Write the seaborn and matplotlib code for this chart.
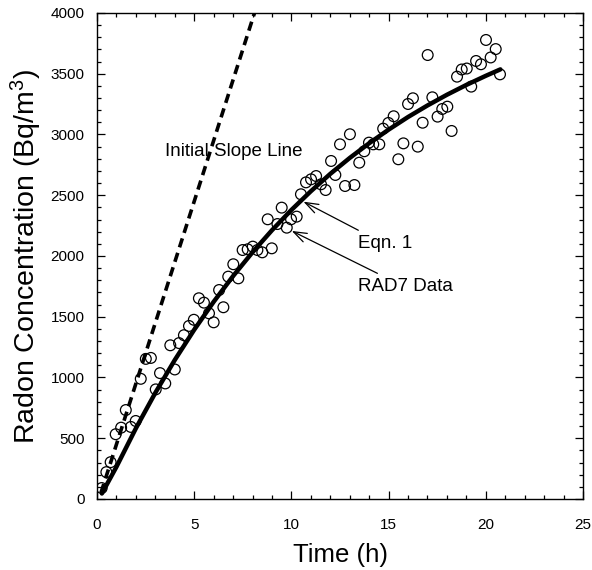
import numpy as np
import pandas as pd
import matplotlib
matplotlib.use("Agg")
import matplotlib.pyplot as plt
from matplotlib.ticker import MultipleLocator
import seaborn as sns

# RAD7 measured data (time in h, radon concentration in Bq/m3)
time_h = [0.24, 0.48, 0.70, 0.96, 1.24, 1.48, 1.74, 1.99, 2.25, 2.51, 2.77, 3.02,
          3.24, 3.51, 3.77, 4.00, 4.22, 4.47, 4.73, 4.98, 5.24, 5.50, 5.76, 6.00,
          6.28, 6.50, 6.75, 7.01, 7.27, 7.49, 7.75, 8.01, 8.25, 8.50, 8.78, 8.99,
          9.28, 9.50, 9.76, 9.98, 10.27, 10.49, 10.75, 11.01, 11.27, 11.52, 11.76,
          12.04, 12.26, 12.50, 12.76, 13.01, 13.24, 13.49, 13.75, 13.99, 14.21,
          14.52, 14.72, 14.99, 15.26, 15.50, 15.76, 16.00, 16.25, 16.50, 16.75,
          17.01, 17.25, 17.52, 17.76, 18.02, 18.24, 18.52, 18.76, 19.02, 19.25,
          19.50, 19.75, 20.01, 20.25, 20.51, 20.73]
radon = [90, 221, 303, 533, 587, 732, 593, 642, 989, 1153, 1161, 902,
         1036, 951, 1265, 1066, 1283, 1348, 1424, 1475, 1652, 1616, 1528, 1454,
         1720, 1578, 1830, 1932, 1816, 2049, 2055, 2077, 2049, 2030, 2302, 2063,
         2263, 2398, 2233, 2302, 2324, 2508, 2606, 2631, 2658, 2590, 2543,
         2782, 2667, 2919, 2576, 3002, 2584, 2768, 2862, 2933, 2919,
         2919, 3048, 3095, 3150, 2796, 2927, 3251, 3298, 2900, 3097,
         3654, 3306, 3147, 3210, 3229, 3029, 3476, 3535, 3543, 3394,
         3605, 3578, 3778, 3634, 3703, 3495]

# Eqn. 1 curve
eqn_t = [0.25, 1, 2, 3, 4, 5, 6, 7, 8, 9, 10, 11, 12, 13, 14, 15, 16, 17,
         18, 19, 20, 20.75]
eqn_c = [45, 265, 582, 874, 1144, 1393, 1623, 1835, 2031, 2212, 2379, 2533,
         2676, 2807, 2928, 3040, 3144, 3239, 3327, 3408, 3483, 3536]

# Initial slope line
slope_t = [0.2, 8.1]
slope_c = [50, 4000]

sns.set_style("ticks")
plt.rcParams["font.family"] = ["Liberation Sans", "DejaVu Sans"]
plt.rcParams["mathtext.fontset"] = "custom"
plt.rcParams["mathtext.rm"] = "Liberation Sans"
plt.rcParams["mathtext.it"] = "Liberation Sans:italic"
for k in ["text.color", "axes.labelcolor", "xtick.color", "ytick.color",
          "axes.edgecolor"]:
    plt.rcParams[k] = "black"

fig = plt.figure(figsize=(5.92, 5.70), dpi=100)
ax = fig.add_axes([0.1639, 0.1246, 0.8209, 0.8526])

data = pd.DataFrame({"t": time_h, "c": radon})
eqn = pd.DataFrame({"t": eqn_t, "c": eqn_c})
slope = pd.DataFrame({"t": slope_t, "c": slope_c})

sns.lineplot(data=slope, x="t", y="c", ax=ax, color="black", lw=2.6,
             dashes=False, sort=False)
ax.lines[-1].set_dashes([2.6, 1.6])
sns.lineplot(data=eqn, x="t", y="c", ax=ax, color="black", lw=3.2, sort=False)
sns.scatterplot(data=data, x="t", y="c", ax=ax, marker="o", s=60,
                facecolor="none", edgecolor="black", linewidth=0.9, zorder=3)

ax.set_xlim(0, 25)
ax.set_ylim(0, 4000)
ax.xaxis.set_major_locator(MultipleLocator(5))
ax.xaxis.set_minor_locator(MultipleLocator(1))
ax.yaxis.set_major_locator(MultipleLocator(500))
ax.yaxis.set_minor_locator(MultipleLocator(100))
ax.tick_params(which="both", direction="in", top=True, right=True,
               labelsize=11, colors="black", width=0.9)
ax.tick_params(which="major", length=6)
ax.tick_params(which="minor", length=3)
ax.tick_params(axis="x", which="major", pad=13.5)
ax.tick_params(axis="y", which="major", pad=9)
for sp in ax.spines.values():
    sp.set_linewidth(1.0)
    sp.set_color("black")

ax.set_xlabel("Time (h)", fontsize=18.5, labelpad=8)
ax.set_ylabel(r"Radon Concentration (Bq/m$^3$)", fontsize=20.5, labelpad=5)

ax.text(3.5, 2856, "Initial Slope Line", fontsize=13.5, va="center", ha="left")
ax.annotate("Eqn. 1", xy=(10.62, 2447), xytext=(13.4, 2099), fontsize=13.5,
            va="center", ha="left",
            arrowprops=dict(arrowstyle="->,head_length=0.7,head_width=0.25",
                            color="black", lw=0.9, shrinkA=3, shrinkB=0))
ax.annotate("RAD7 Data", xy=(10.02, 2206), xytext=(13.4, 1745), fontsize=13.5,
            va="center", ha="left",
            arrowprops=dict(arrowstyle="->,head_length=0.7,head_width=0.25",
                            color="black", lw=0.9, shrinkA=3, shrinkB=0))

fig.savefig("out.png", dpi=100)
